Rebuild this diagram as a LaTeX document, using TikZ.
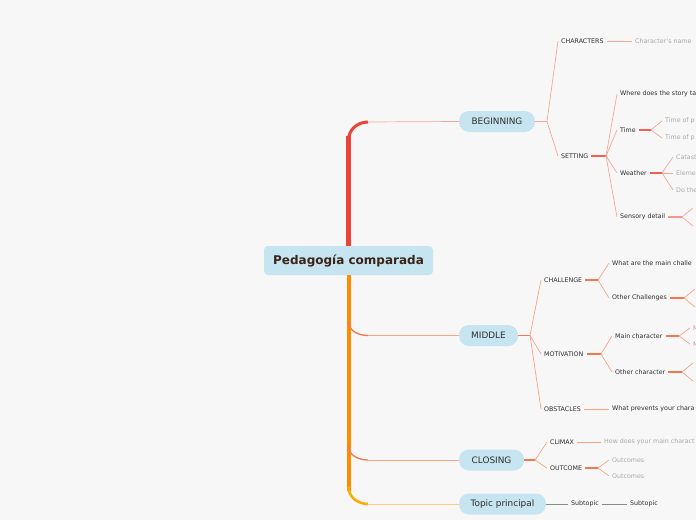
\documentclass[tikz,border=0pt]{standalone}
\usepackage{fontspec}
\setmainfont{DejaVu Sans}
\usetikzlibrary{calc}

\definecolor{bggrey}{HTML}{F7F7F7}
\definecolor{pillblue}{HTML}{C6E5F0}
\definecolor{titlebrown}{HTML}{3A2418}
\definecolor{txtdark}{HTML}{2E2E2E}
\definecolor{txtgrey}{HTML}{A8A8A8}
\definecolor{trunkred}{HTML}{E8443A}
\definecolor{trunkorange}{HTML}{FF8C00}
\definecolor{linkpink}{HTML}{F5A59B}
\definecolor{stubred}{HTML}{EF5F52}
\definecolor{linksalmon}{HTML}{F7A483}
\definecolor{stuborange}{HTML}{F2784C}
\definecolor{linkyellow}{HTML}{FFCB80}
\definecolor{linkgrey}{HTML}{8A8A8A}

\tikzset{
  pill/.style={fill=pillblue, rounded corners=10pt, inner sep=0pt,
    minimum height=21pt, text=txtdark, font=\fontsize{8.9}{10}\selectfont},
  lbl/.style={anchor=west, inner sep=3pt, text=txtdark,
    font=\fontsize{6.3}{7}\selectfont},
  leaf/.style={lbl, text=txtgrey},
  pinkln/.style={draw=linkpink, line width=0.7pt},
  redstub/.style={draw=stubred, line width=1.1pt},
  salmonln/.style={draw=linksalmon, line width=0.7pt},
  orangestub/.style={draw=stuborange, line width=1.1pt},
}

\begin{document}
\begin{tikzpicture}[x=1pt, y=-1pt]
  \useasboundingbox (0,0) rectangle (696,520);
  \clip (0,0) rectangle (696,520);
  \fill[bggrey] (0,0) rectangle (696,520);

  % main topic and the four branches
  \node[fill=pillblue, rounded corners=4pt, minimum width=169pt, minimum height=29pt,
        inner sep=0pt, text=titlebrown, font=\fontsize{12}{14}\bfseries]
        (root) at (348.5,260.5) {Pedagogía comparada};
  \node[pill, minimum width=76pt] (begin) at (497,121.5) {BEGINNING};
  \node[pill, minimum width=59pt] (middle) at (488.5,335.5) {MIDDLE};
  \node[pill, minimum width=65pt] (closing) at (491.5,460) {CLOSING};
  \node[pill, minimum width=87pt] (topic) at (502.5,504) {Topic principal};

  % trunk
  \coordinate (tB) at (348.5,140);
  \coordinate (tB2) at (368,122);
  \coordinate (tT) at (348.5,487);
  \coordinate (tT2) at (368,504);
  \draw[trunkred, line width=4.5pt] (root.north) -- (348.5,136);
  \draw[trunkred, line width=3pt] (tB) to[out=90, in=180] (tB2);
  \draw[pinkln] (tB2) -- (begin.west);
  \draw[trunkorange, line width=4pt] (root.south) -- (348.5,491);
  \draw[trunkorange!75!yellow, line width=2.5pt] (tT) to[out=-90, in=180] (tT2);
  \draw[draw=linkyellow, line width=0.7pt] (tT2) -- (topic.west);
  \foreach \n/\y in {middle/335.5, closing/460}{
    \coordinate (s\n) at (348.5,\y-14);
    \coordinate (e\n) at (368,\y);
    \draw[stuborange, line width=1.3pt] (s\n) to[out=-90, in=180] (e\n);
    \draw[salmonln] (e\n) -- (\n.west);
  }

  % BEGINNING
  \coordinate (fBeg) at (547,121.5);
  \node[lbl] (chars) at (558,41) {CHARACTERS};
  \node[leaf] (charname) at (632,41) {Character's name};
  \node[lbl] (setting) at (558,156) {SETTING};
  \draw[pinkln] (begin.east) -- (fBeg);
  \draw[pinkln] (fBeg) -- (chars.west);
  \draw[pinkln] (fBeg) -- (setting.west);
  \draw[pinkln] (chars.east) -- (charname.west);

  \coordinate (fSet) at (606,156);
  \node[lbl] (where) at (617,94) {Where does the story ta};
  \node[lbl] (time) at (617,130) {Time};
  \node[lbl] (weather) at (617,173) {Weather};
  \node[lbl] (sensory) at (617,217) {Sensory detail};
  \draw[redstub] (setting.east) -- (fSet);
  \foreach \c in {where, time, weather, sensory}
    \draw[pinkln] (fSet) -- (\c.west);

  \coordinate (fTime) at (651,130);
  \node[leaf] (timeA) at (662,121) {Time of p};
  \node[leaf] (timeB) at (662,138) {Time of p};
  \draw[redstub] (time.east) -- (fTime);
  \draw[pinkln] (fTime) -- (timeA.west);
  \draw[pinkln] (fTime) -- (timeB.west);

  \coordinate (fWeat) at (662,173);
  \node[leaf] (weatA) at (673,157) {Catast};
  \node[leaf] (weatB) at (673,173) {Eleme};
  \node[leaf] (weatC) at (673,190) {Do the};
  \draw[redstub] (weather.east) -- (fWeat);
  \foreach \c in {weatA, weatB, weatC}
    \draw[pinkln] (fWeat) -- (\c.west);

  \coordinate (fSens) at (682,217);
  \coordinate (sensA) at (693,208);
  \coordinate (sensB) at (693,226);
  \draw[redstub, draw=linkpink!80!stubred] (sensory.east) -- (fSens);
  \draw[pinkln] (fSens) -- (sensA);
  \draw[pinkln] (fSens) -- (sensB);

  % MIDDLE
  \coordinate (fMid) at (530,335.5);
  \node[lbl] (challenge) at (541,280) {CHALLENGE};
  \node[lbl] (motivation) at (541,354) {MOTIVATION};
  \node[lbl] (obstacles) at (541,409) {OBSTACLES};
  \draw[orangestub] (middle.east) -- (fMid);
  \foreach \c in {challenge, motivation, obstacles}
    \draw[salmonln] (fMid) -- (\c.west);

  \coordinate (fChal) at (598,280);
  \node[lbl] (mainchal) at (609,263) {What are the main challe};
  \node[lbl] (otherchal) at (609,298) {Other Challenges};
  \draw[orangestub] (challenge.east) -- (fChal);
  \draw[salmonln] (fChal) -- (mainchal.west);
  \draw[salmonln] (fChal) -- (otherchal.west);
  \coordinate (fOch) at (684,298);
  \coordinate (ochA) at (695,289);
  \coordinate (ochB) at (695,307);
  \draw[orangestub] (otherchal.east) -- (fOch);
  \draw[salmonln] (fOch) -- (ochA);
  \draw[salmonln] (fOch) -- (ochB);

  \coordinate (fMot) at (601,354);
  \node[lbl] (mainchar) at (612,336) {Main character};
  \node[lbl] (otherchar) at (612,372) {Other character};
  \draw[orangestub] (motivation.east) -- (fMot);
  \draw[salmonln] (fMot) -- (mainchar.west);
  \draw[salmonln] (fMot) -- (otherchar.west);
  \coordinate (fMain) at (679,336);
  \node[leaf] (mainA) at (690,328) {M};
  \node[leaf] (mainB) at (690,344) {M};
  \draw[orangestub] (mainchar.east) -- (fMain);
  \draw[salmonln] (fMain) -- (mainA.west);
  \draw[salmonln] (fMain) -- (mainB.west);
  \coordinate (fOth) at (682,372);
  \coordinate (othA) at (693,363);
  \coordinate (othB) at (693,381);
  \draw[orangestub] (otherchar.east) -- (fOth);
  \draw[salmonln] (fOth) -- (othA);
  \draw[salmonln] (fOth) -- (othB);

  \node[lbl] (prevents) at (609,409) {What prevents your chara};
  \draw[salmonln] (obstacles.east) -- (prevents.west);

  % CLOSING
  \coordinate (fClo) at (535,460);
  \node[lbl] (climax) at (547,442) {CLIMAX};
  \node[lbl] (outcome) at (547,468) {OUTCOME};
  \draw[orangestub] (closing.east) -- (fClo);
  \draw[salmonln] (fClo) -- (climax.west);
  \draw[salmonln] (fClo) -- (outcome.west);
  \node[leaf] (howdoes) at (601,442) {How does your main charact};
  \draw[salmonln] (climax.east) -- (howdoes.west);
  \coordinate (fOut) at (598,468);
  \node[leaf] (outA) at (609,460) {Outcomes};
  \node[leaf] (outB) at (609,476) {Outcomes};
  \draw[orangestub] (outcome.east) -- (fOut);
  \draw[salmonln] (fOut) -- (outA.west);
  \draw[salmonln] (fOut) -- (outB.west);

  % Topic principal
  \node[lbl] (subA) at (568,504) {Subtopic};
  \node[lbl] (subB) at (627,504) {Subtopic};
  \draw[linkgrey, line width=0.7pt] (topic.east) -- (subA.west);
  \draw[linkgrey, line width=0.7pt] (subA.east) -- (subB.west);
\end{tikzpicture}
\end{document}
